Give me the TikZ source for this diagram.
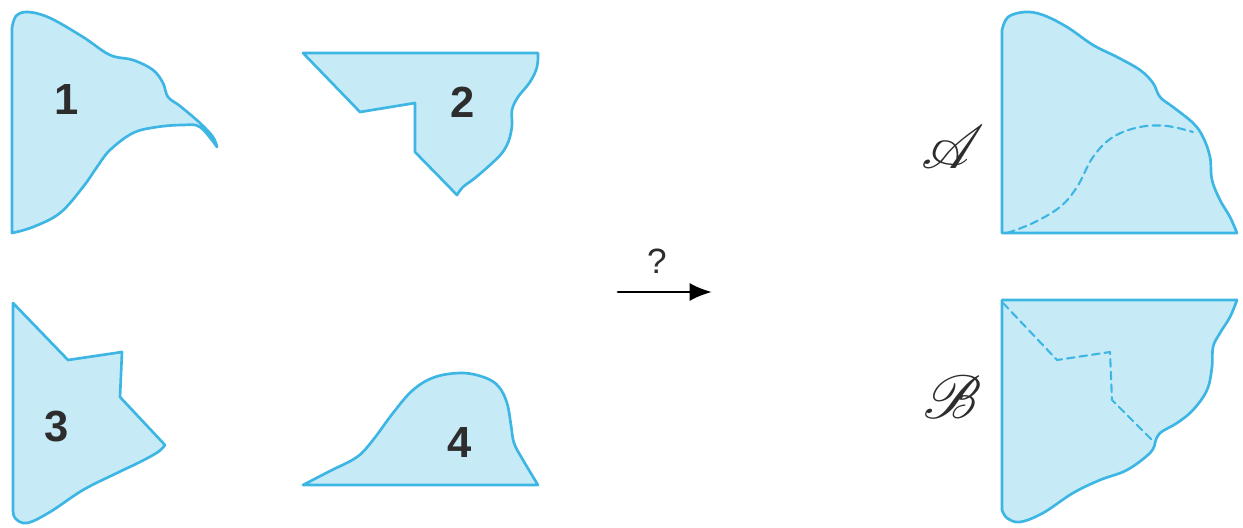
\documentclass[tikz,border=0pt]{standalone}
\usepackage{fontspec}
\setsansfont{Liberation Sans}
\usepackage{mathrsfs}
\usetikzlibrary{arrows.meta,calc,positioning}
\definecolor{piecefill}{RGB}{198,235,247}
\definecolor{pieceline}{RGB}{62,182,228}
\definecolor{inkgray}{RGB}{45,45,45}
\tikzset{
  piece/.style={draw=pieceline,fill=piecefill,line width=1.9pt,line join=round,line cap=round},
  cut/.style={draw=pieceline,line width=1.5pt,dash pattern=on 5.5pt off 3.5pt},
  num/.style={font=\sffamily\bfseries\fontsize{31}{31}\selectfont,text=inkgray},
  scr/.style={font=\fontsize{24.88}{25}\selectfont,text=inkgray,scale=1.75}
}
\begin{document}
\begin{tikzpicture}[x=0.25mm,y=-0.25mm,line join=round,line cap=round]
\useasboundingbox (0,0) rectangle (1243,527);
% piece 1
\draw[piece] (12,233) -- (12,28) -- plot[smooth,tension=0.6] coordinates {(12,28) (16,16) (28,12) (50,18) (83,37) (110,55) (133,60) (153,70) (163,83) (168,97) (180,106) (200,123) (213,137) (217,147)}
  -- plot[smooth,tension=0.6] coordinates {(217,147) (200,127) (183,125) (157,127) (133,133) (110,150) (97,167) (83,187) (60,213) (33,227) (12,233)} -- cycle;
% piece 2
\draw[piece] (303,53) -- (538,53) -- plot[smooth,tension=0.6] coordinates {(538,53) (537,67) (530,82) (518,97) (512,110) (512,125) (509,140) (502,153) (490,165) (475,178) (463,187) (457,195)}
  -- (415,152) -- (415,103) -- (360,112) -- cycle;
% piece 3
\draw[piece] (13,303) -- (68,360) -- (122,352) -- (120,397) -- (165,445) -- plot[smooth,tension=0.6] coordinates {(165,445) (158,452) (140,462) (117,473) (83,490) (50,512) (27,523) (15,518) (13,508)} -- cycle;
% piece 4
\draw[piece] (303,485) -- (538,485) -- plot[smooth,tension=0.6] coordinates {(538,485) (523,460) (514,443) (511,425) (507,403) (499,387) (486,378) (463,373) (435,377) (413,390) (393,413) (373,440) (357,457) (330,471) (303,485)} -- cycle;
% square A
\draw[piece] (1237,233) -- (1002,233) -- (1002,30) -- plot[smooth,tension=0.6] coordinates {(1002,30) (1008,17) (1025,12) (1043,15) (1067,27) (1093,45) (1117,57) (1140,70) (1153,83) (1160,97) (1173,107) (1193,123) (1203,137) (1210,157) (1212,180) (1220,200) (1230,217) (1237,233)} -- cycle;
\draw[cut] plot[smooth,tension=0.6] coordinates {(1007,233) (1033,223) (1060,207) (1077,187) (1093,157) (1113,137) (1140,127) (1167,126) (1193,132)};
% square B
\draw[piece] (1002,510) -- (1002,300) -- (1237,300) -- plot[smooth,tension=0.6] coordinates {(1237,300) (1230,317) (1220,333) (1213,347) (1212,367) (1207,390) (1193,410) (1177,423) (1160,433) (1155,443)}
  -- plot[smooth,tension=0.6] coordinates {(1155,443) (1150,453) (1127,470) (1100,480) (1073,493) (1043,513) (1020,522) (1007,518) (1002,510)} -- cycle;
\draw[cut] (1003,303) -- (1057,360) -- (1110,352) -- (1112,400) -- (1155,443);
% labels
\foreach \i/\x/\y in {1/67/100,2/463/102,3/57/427,4/460/442}{\node[num] (n\i) at (\x,\y) {\i};}
\node[scr] (lA) at (953,147) {$\mathscr{A}$};
\node[scr] (lB) at (953,397) {$\mathscr{B}$};
% arrow
\coordinate (s) at (618,292);
\coordinate (t) at (712,292);
\draw[line width=2pt,-{Latex[length=16pt,width=13pt]}] (s) -- (t);
\node[font=\sffamily\fontsize{25}{25}\selectfont,text=inkgray] (q) at (657,261) {?};
\end{tikzpicture}
\end{document}
